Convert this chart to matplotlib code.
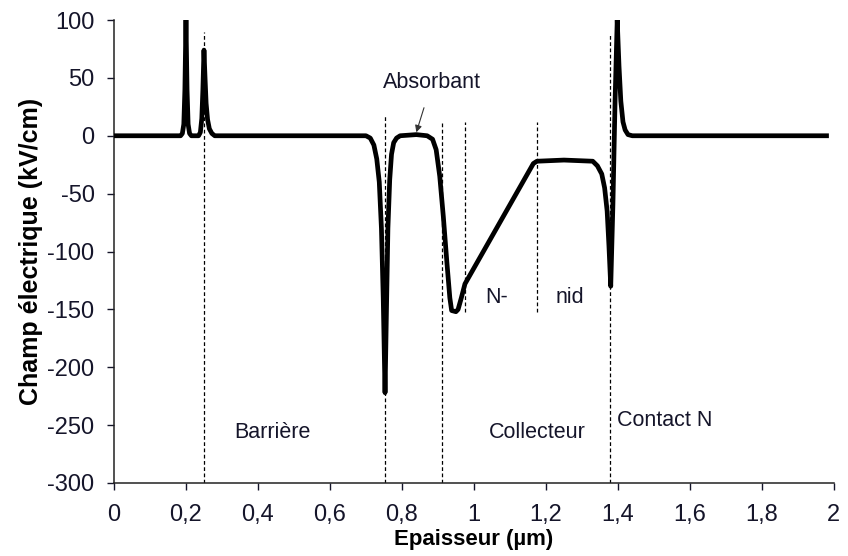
import matplotlib.pyplot as plt

# Electric field profile across the structure (kV/cm vs µm)
depth = [0.0, 0.185, 0.19, 0.194, 0.197, 0.2, 0.203, 0.206, 0.21, 0.215,
         0.235, 0.24, 0.244, 0.247, 0.25, 0.253, 0.256, 0.26, 0.265, 0.272,
         0.28, 0.70, 0.712, 0.722, 0.73, 0.737, 0.743, 0.748, 0.753, 0.757,
         0.761, 0.766, 0.771, 0.777, 0.785, 0.795, 0.84, 0.87, 0.885, 0.895,
         0.905, 0.915, 0.925, 0.933, 0.938, 0.95, 0.956, 0.965, 0.975, 1.165,
         1.175, 1.25, 1.33, 1.343, 1.355, 1.363, 1.37, 1.375, 1.38, 1.386,
         1.392, 1.398, 1.403, 1.408, 1.414, 1.42, 1.428, 1.44, 1.986]
field = [0, 0, 2, 10, 40, 100, 40, 10, 2, 0,
         0, 3, 15, 40, 74, 50, 28, 14, 6, 2,
         0, 0, -2, -8, -20, -40, -80, -140, -222, -150,
         -80, -38, -16, -6, -2, 0, 1, 0, -3, -12,
         -35, -70, -110, -140, -151, -152, -150, -140, -128, -24,
         -22, -21, -22, -26, -33, -45, -65, -95, -130, -60,
         30, 100, 60, 30, 12, 5, 1, 0, 0]

# Layer boundaries drawn as dashed lines
bound_x = [0.25, 0.752, 0.912, 0.976, 1.175, 1.378]
bound_top = [90, 18, 12, 12, 12, 87]
bound_bottom = [-300, -300, -300, -152, -152, -300]

region_names = ['Barrière', 'Collecteur', 'Contact N', 'N-', 'nid']
region_x = [0.44, 1.175, 1.53, 1.064, 1.267]
region_y = [-256, -256, -246, -140, -140]

plt.rcParams['font.family'] = ['Liberation Sans', 'DejaVu Sans']
plt.rcParams['axes.unicode_minus'] = False

fig = plt.figure(figsize=(8.48, 5.56), dpi=100)
ax = fig.add_axes([0.1344, 0.1313, 0.849, 0.8327])

ax.plot(depth, field, color='black', lw=3.4, solid_joinstyle='round',
        solid_capstyle='butt', zorder=3)
ax.vlines(bound_x, bound_bottom, bound_top, colors='black', lw=0.9,
          linestyles=(0, (3, 2)), zorder=2)

for name, x, y in zip(region_names, region_x, region_y):
    ax.text(x, y, name, ha='center', va='center', fontsize=15.5,
            color='#15152a')

ax.annotate('Absorbant', xy=(0.84, 3), xytext=(0.883, 46),
            ha='center', va='center', fontsize=15.5, color='#15152a',
            arrowprops=dict(arrowstyle='-|>', color='#333333', lw=0.8,
                            mutation_scale=10, shrinkA=9, shrinkB=0))

ax.set_xlim(0, 2)
ax.set_ylim(-300, 100)
ax.set_xticks([0, 0.2, 0.4, 0.6, 0.8, 1, 1.2, 1.4, 1.6, 1.8, 2])
ax.set_xticklabels(['0', '0,2', '0,4', '0,6', '0,8', '1', '1,2', '1,4',
                    '1,6', '1,8', '2'])
ax.set_yticks(range(-300, 101, 50))
ax.tick_params(labelsize=17, length=5, width=1, colors='#15152a')
ax.tick_params(axis='x', pad=10)
ax.tick_params(axis='y', pad=9)

for side in ['top', 'right']:
    ax.spines[side].set_visible(False)
for side in ['left', 'bottom']:
    ax.spines[side].set_linewidth(1.1)
    ax.spines[side].set_color('#222222')

ax.set_xlabel('Epaisseur (µm)', fontsize=16, fontweight='bold', labelpad=2)
ax.set_ylabel('Champ électrique (kV/cm)', fontsize=18, fontweight='bold',
              labelpad=3)

fig.savefig('out.png', dpi=100)
